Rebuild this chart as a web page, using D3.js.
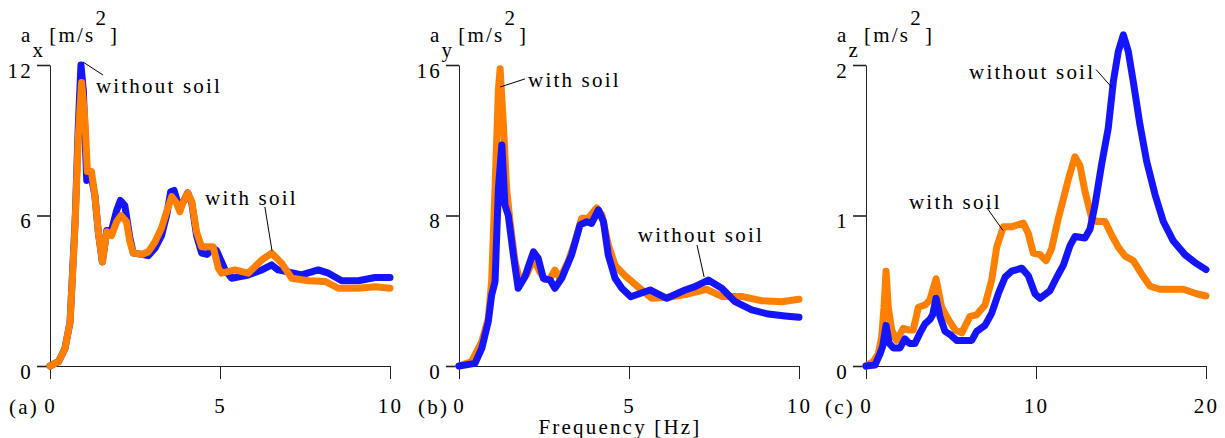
<!DOCTYPE html>
<meta charset="utf-8">
<style>
  body { margin: 0; background: #fff; }
  svg text { font-family: "Liberation Serif", "Times New Roman", serif; font-size: 21px; letter-spacing: 2.2px; fill: #000; }
  .series { fill: none; stroke-width: 7; stroke-linejoin: round; stroke-linecap: round; }
  .axis path, .axis line { stroke: #222; }
  .leader { stroke: #000; stroke-width: 1; }
</style>
<svg width="1225" height="438"></svg>
<script src="https://d3js.org/d3.v7.min.js"></script>
<script>

// ---- data: [frequency Hz, acceleration m/s^2] ----
var axWithoutSoil = [[0,0],[0.25,0.17],[0.44,0.7],[0.59,1.75],[0.74,5.8],[0.83,9.5],[0.91,12.0],[0.98,11.0],[1.05,8.5],[1.08,7.4],[1.22,7.5],[1.32,6.8],[1.42,5.35],[1.54,4.15],[1.67,5.4],[1.81,5.4],[1.96,6.2],[2.07,6.6],[2.2,6.4],[2.35,5.1],[2.45,4.5],[2.7,4.45],[2.89,4.4],[3.09,4.7],[3.28,5.2],[3.43,6.0],[3.55,6.95],[3.65,7.0],[3.8,6.3],[3.92,6.55],[4.05,6.9],[4.17,6.5],[4.31,5.2],[4.46,4.5],[4.62,4.45],[4.8,4.7],[4.9,4.6],[5.15,3.83],[5.34,3.5],[5.83,3.63],[6.23,3.83],[6.52,4.03],[6.71,3.83],[6.96,3.76],[7.4,3.63],[7.89,3.83],[8.19,3.7],[8.58,3.4],[9.07,3.4],[9.56,3.53],[10,3.53]];
var axWithSoil = [[0,0],[0.25,0.17],[0.44,0.7],[0.59,1.75],[0.74,5.7],[0.83,9.1],[0.93,11.3],[1.03,9.75],[1.1,7.75],[1.22,7.75],[1.32,6.8],[1.42,5.35],[1.54,4.15],[1.67,5.35],[1.81,5.2],[1.96,5.75],[2.09,6.0],[2.25,5.75],[2.35,4.95],[2.45,4.5],[2.7,4.45],[2.89,4.55],[3.09,4.95],[3.28,5.5],[3.43,6.15],[3.58,6.75],[3.72,6.5],[3.82,6.15],[3.92,6.55],[4.05,6.9],[4.17,6.55],[4.31,5.35],[4.46,4.75],[4.66,4.75],[4.8,4.75],[4.95,3.9],[5.05,3.7],[5.44,3.83],[5.83,3.7],[6.23,4.23],[6.52,4.5],[6.81,4.1],[7.11,3.5],[7.6,3.4],[8.09,3.37],[8.48,3.1],[9.07,3.1],[9.56,3.16],[10,3.1]];

var ayWithoutSoil = [[0,0],[0.47,0.14],[0.67,0.94],[0.86,2.35],[0.96,3.77],[1.06,4.48],[1.16,9.45],[1.26,11.75],[1.35,8.56],[1.45,8.0],[1.6,5.9],[1.74,4.13],[1.94,4.75],[2.19,6.07],[2.33,5.72],[2.48,4.66],[2.68,4.57],[2.82,4.13],[3.02,4.66],[3.31,5.9],[3.56,7.5],[3.76,7.67],[3.9,7.58],[4.1,8.3],[4.25,7.67],[4.39,5.9],[4.59,4.66],[4.79,4.13],[5.05,3.68],[5.62,4.04],[6.11,3.6],[6.65,4.04],[6.94,4.22],[7.33,4.57],[7.73,4.13],[8.12,3.42],[8.61,2.98],[9.1,2.76],[9.59,2.66],[10,2.59]];
var ayWithSoil = [[0,0],[0.37,0.23],[0.67,1.3],[0.86,2.5],[0.96,4.5],[1.06,9.45],[1.16,14.75],[1.21,15.8],[1.3,13.0],[1.4,9.45],[1.5,7.7],[1.65,5.55],[1.79,4.5],[1.99,4.85],[2.19,5.7],[2.38,5.0],[2.53,4.6],[2.68,4.65],[2.82,5.1],[2.97,4.65],[3.21,5.55],[3.41,6.6],[3.61,7.85],[3.8,7.85],[4.05,8.4],[4.2,8.05],[4.39,6.45],[4.59,5.35],[4.88,4.8],[5.27,4.2],[5.67,3.6],[6.16,3.65],[6.65,3.8],[7.28,4.08],[7.73,3.7],[8.31,3.7],[8.9,3.47],[9.49,3.42],[10,3.55]];

var azWithoutSoil = [[0,0],[0.53,0.007],[0.82,0.08],[0.98,0.13],[1.18,0.27],[1.37,0.15],[1.61,0.12],[2.0,0.12],[2.29,0.18],[2.55,0.15],[2.88,0.15],[3.18,0.22],[3.47,0.28],[3.76,0.31],[3.92,0.34],[4.12,0.45],[4.35,0.33],[4.65,0.23],[4.94,0.21],[5.33,0.17],[5.73,0.17],[6.22,0.17],[6.51,0.23],[7.0,0.27],[7.39,0.35],[7.78,0.48],[8.18,0.59],[8.57,0.63],[9.16,0.65],[9.55,0.6],[9.94,0.48],[10.24,0.45],[10.82,0.5],[11.22,0.59],[11.61,0.67],[12.0,0.8],[12.29,0.86],[12.88,0.85],[13.18,0.91],[13.47,1.07],[13.86,1.34],[14.25,1.58],[14.55,1.89],[14.84,2.09],[15.14,2.2],[15.43,2.09],[15.72,1.89],[16.12,1.6],[16.51,1.36],[17.0,1.14],[17.49,0.96],[18.08,0.83],[18.76,0.74],[19.45,0.68],[20,0.64]];
var azWithSoil = [[0,0],[0.43,0.03],[0.72,0.08],[0.92,0.19],[1.06,0.39],[1.18,0.63],[1.31,0.39],[1.51,0.24],[1.8,0.17],[2.19,0.25],[2.49,0.24],[2.78,0.24],[3.08,0.39],[3.47,0.405],[3.76,0.44],[4.12,0.58],[4.45,0.39],[4.84,0.31],[5.24,0.24],[5.63,0.22],[6.12,0.33],[6.51,0.34],[7.0,0.405],[7.39,0.57],[7.69,0.79],[8.08,0.925],[8.57,0.925],[9.25,0.95],[9.55,0.88],[9.84,0.75],[10.24,0.74],[10.6,0.7],[10.92,0.78],[11.31,0.98],[11.61,1.11],[11.9,1.24],[12.29,1.39],[12.59,1.33],[12.88,1.16],[13.28,0.98],[13.57,0.96],[14.06,0.96],[14.45,0.87],[14.84,0.79],[15.24,0.73],[15.72,0.7],[16.22,0.61],[16.71,0.53],[17.29,0.51],[18.66,0.51],[19.45,0.48],[20,0.465]];

// axis ticks
var xTicksA = [0, 5, 10], yTicksA = [0, 6, 12];
var xTicksB = [0, 5, 10], yTicksB = [0, 8, 16];
var xTicksC = [0, 10, 20], yTicksC = [0, 1, 2];

var panelIds = ["(a)", "(b)", "(c)"];
var axisSubs = ["x", "y", "z"];

// annotations: label, text anchor point, leader start, leader end (data units)
var notesA = [
  {label: "without soil", at: [1.35, 10.89], from: [0.97, 12.12], to: [1.56, 11.6]},
  {label: "with soil", at: [4.56, 6.42], from: [6.32, 6.34], to: [6.53, 4.59]}
];
var notesB = [
  {label: "with soil", at: [2.03, 14.83], from: [1.21, 14.83], to: [1.94, 15.26]},
  {label: "without soil", at: [5.26, 6.59], from: [7.0, 6.43], to: [7.21, 4.73]}
];
var notesC = [
  {label: "without soil", at: [6.06, 1.91], from: [13.53, 1.97], to: [14.47, 1.85]},
  {label: "with soil", at: [2.53, 1.04], from: [7.12, 1.05], to: [8.06, 0.9]}
];

var blue = "#1414ff", orange = "#ff7f00";

var svg = d3.select("svg");

var panels = [
  {left: 50, xTicks: xTicksA, yTicks: yTicksA, without: axWithoutSoil, withS: axWithSoil, notes: notesA, blueOnTop: false},
  {left: 459, xTicks: xTicksB, yTicks: yTicksB, without: ayWithoutSoil, withS: ayWithSoil, notes: notesB, blueOnTop: true},
  {left: 866, xTicks: xTicksC, yTicks: yTicksC, without: azWithoutSoil, withS: azWithSoil, notes: notesC, blueOnTop: true}
];

var plotTop = 65, plotBottom = 366, plotW = 340;
var fmt = d3.format("d");

panels.forEach(function(p, i) {
  var x = d3.scaleLinear()
      .domain(d3.extent(p.xTicks))
      .range([p.left, p.left + plotW]);
  var y = d3.scaleLinear()
      .domain(d3.extent(p.yTicks))
      .range([plotBottom, plotTop]);

  var line = d3.line()
      .x(function(d) { return x(d[0]); })
      .y(function(d) { return y(d[1]); });

  // axes
  var gx = svg.append("g")
      .attr("class", "axis")
      .attr("transform", "translate(0," + plotBottom + ")")
      .call(d3.axisBottom(x).tickValues(p.xTicks).tickFormat(fmt).tickSize(13).tickSizeOuter(0).tickPadding(20));
  var gy = svg.append("g")
      .attr("class", "axis")
      .attr("transform", "translate(" + p.left + ",0)")
      .call(d3.axisLeft(y).tickValues(p.yTicks).tickFormat(fmt).tickSize(13).tickSizeOuter(0).tickPadding(4));
  gy.selectAll(".tick line").attr("stroke-width", 1.6).attr("stroke", "#000");
  gy.selectAll(".tick text").attr("dy", "0.58em");
  gx.selectAll(".tick text").attr("dy", "0.68em");
  [gx, gy].forEach(function(g) {
    g.attr("font-family", null).attr("font-size", null);
  });

  // curves
  var order = p.blueOnTop ? [[p.withS, orange], [p.without, blue]] : [[p.without, blue], [p.withS, orange]];
  order.forEach(function(s) {
    svg.append("path")
        .datum(s[0])
        .attr("class", "series")
        .attr("stroke", s[1])
        .attr("d", line);
  });

  // annotations
  p.notes.forEach(function(n) {
    svg.append("line")
        .attr("class", "leader")
        .attr("x1", x(n.from[0])).attr("y1", y(n.from[1]))
        .attr("x2", x(n.to[0])).attr("y2", y(n.to[1]));
    svg.append("text")
        .attr("x", x(n.at[0]))
        .attr("y", y(n.at[1]))
        .text(n.label);
  });

  // y title a_x [m/s^2]
  var t = svg.append("text")
      .attr("x", p.left - 29)
      .attr("y", 42);
  t.append("tspan").text("a");
  t.append("tspan").attr("dy", 15).text(axisSubs[i]);
  t.append("tspan").attr("dy", -15).attr("dx", 4).text("[m/s");
  t.append("tspan").attr("dy", -17).text("2");
  t.append("tspan").attr("dy", 17).attr("dx", 2).text("]");

  // panel id
  svg.append("text")
      .attr("x", p.left - 41)
      .attr("y", 414)
      .text(panelIds[i]);
});

svg.append("text")
    .attr("x", 620)
    .attr("y", 434)
    .attr("text-anchor", "middle")
    .text("Frequency [Hz]");

</script>
